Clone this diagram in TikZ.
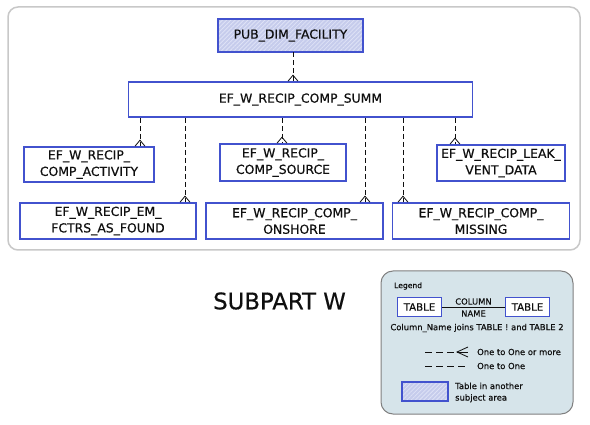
\documentclass[tikz,border=0pt]{standalone}
\usepackage{fontspec}
\setmainfont{DejaVu Sans}[RawFeature={embolden=0.5}]
\usetikzlibrary{patterns.meta,calc}
\definecolor{boxblue}{RGB}{66,82,206}
\definecolor{hatchbase}{RGB}{198,204,236}
\definecolor{hatchline}{RGB}{222,226,246}
\definecolor{framegray}{RGB}{200,200,200}
\definecolor{legfill}{RGB}{214,228,234}
\definecolor{leggray}{RGB}{128,128,128}
\definecolor{ink}{RGB}{15,15,15}
\newcommand\relln[3]{%
  \draw[relline] (#1.south -| #3) -- (#2.north -| #3);
  \draw[footline] ($(#2.north -| #3)+(-5,0)$) -- ($(#2.north -| #3)+(0,-6)$) -- ($(#2.north -| #3)+(5,0)$);
}
\begin{document}
\begin{tikzpicture}[x=1pt,y=-1pt,
  tbl/.style={draw=boxblue, line width=1.6pt, fill=white, inner sep=0pt, align=center,
    font=\fontsize{12.4}{16.5}\selectfont, text=ink},
  other/.style={draw=boxblue, line width=1.6pt, inner sep=0pt, align=center,
    font=\fontsize{12.4}{16.5}\selectfont, text=ink,
    preaction={fill=hatchbase},
    pattern={Lines[angle=45,distance=3pt,line width=0.8pt]}, pattern color=hatchline},
  relline/.style={draw=ink, line width=0.9pt, dash pattern=on 5pt off 3pt},
  legline/.style={draw=ink, line width=0.9pt, dash pattern=on 7pt off 4pt},
  footline/.style={draw=ink, line width=0.8pt},
  legtxt/.style={font=\fontsize{8.4}{11.5}\selectfont, text=ink, inner sep=0pt},
  legtbl/.style={draw=boxblue, line width=1.6pt, fill=white, inner sep=0pt,
    minimum width=44pt, minimum height=19pt, font=\fontsize{10.2}{12}\selectfont, text=ink}
]
\useasboundingbox (0,0) rectangle (590,425);
\fill[white] (0,0) rectangle (590,425);

% outer frame
\draw[framegray, line width=1.5pt, rounded corners=10pt] (8,7) rectangle (580,250);

% tables
\node[other, minimum width=145pt, minimum height=33pt] (pub) at (290.5,35.5) {PUB\_DIM\_FACILITY};
\node[tbl, minimum width=344pt, minimum height=35pt] (summ) at (300.5,99.5) {EF\_W\_RECIP\_COMP\_SUMM};
\node[tbl, minimum width=130pt, minimum height=35pt] (act) at (89,164.5) {EF\_W\_RECIP\_\\COMP\_ACTIVITY};
\node[tbl, minimum width=126pt, minimum height=37pt] (src) at (283,162.5) {EF\_W\_RECIP\_\\COMP\_SOURCE};
\node[tbl, minimum width=128pt, minimum height=36pt] (leak) at (501,163) {EF\_W\_RECIP\_LEAK\_\\VENT\_DATA};
\node[tbl, minimum width=176pt, minimum height=36pt] (em) at (108,221) {EF\_W\_RECIP\_EM\_\\FCTRS\_AS\_FOUND};
\node[tbl, minimum width=177pt, minimum height=36pt] (ons) at (294.5,221) {EF\_W\_RECIP\_COMP\_\\ONSHORE};
\node[tbl, minimum width=177pt, minimum height=36pt] (mis) at (481,221) {EF\_W\_RECIP\_COMP\_\\MISSING};

% connector x positions
\coordinate (x0) at (293,0);
\coordinate (x1) at (140,0);
\coordinate (x2) at (185,0);
\coordinate (x3) at (282,0);
\coordinate (x4) at (365,0);
\coordinate (x5) at (403,0);
\coordinate (x6) at (455,0);
\relln{pub}{summ}{x0}
\relln{summ}{act}{x1}
\relln{summ}{em}{x2}
\relln{summ}{src}{x3}
\relln{summ}{ons}{x4}
\relln{summ}{mis}{x5}
\relln{summ}{leak}{x6}

% title
\node[font=\fontsize{22.8}{26}\selectfont, text=ink, inner sep=0pt] (title) at (279.5,301) {SUBPART W};

% legend
\draw[leggray, fill=legfill, line width=1pt, rounded corners=12pt] (381,271) rectangle (573,414);
\node[legtxt, anchor=west, font=\fontsize{7.6}{9}\selectfont] (leg) at (394,286) {Legend};
\node[legtbl] (t1) at (419.5,307) {TABLE};
\node[legtbl] (t2) at (527.5,307) {TABLE};
\node[legtxt] (cncol) at (473.5,301.5) {COLUMN};
\node[legtxt] (cnname) at (473.5,313.5) {NAME};
\draw[ink, line width=0.8pt] (t1.east) -- (t2.west);
\node[legtxt] (joins) at (477,328) {Column\_Name joins TABLE ! and TABLE 2};
\coordinate (ls1) at (425,352);
\coordinate (lm1) at (457,352);
\coordinate (le1) at (468,352);
\draw[legline] (ls1) -- (lm1);
\draw[footline] ($(le1)+(0,-5)$) -- (lm1) -- ($(le1)+(0,5)$);
\draw[footline] (lm1) -- (le1);
\node[legtxt, anchor=west] (l1) at (477,352) {One to One or more};
\coordinate (ls2) at (425,366);
\coordinate (le2) at (468,366);
\draw[legline] (ls2) -- (le2);
\node[legtxt, anchor=west] (l2) at (477,366) {One to One};
\node[other, minimum width=46pt, minimum height=19pt] (hb) at (425,391.5) {};
\node[legtxt, anchor=west, align=left] (l3) at (455,392.5) {Table in another\\subject area};
\end{tikzpicture}
\end{document}
